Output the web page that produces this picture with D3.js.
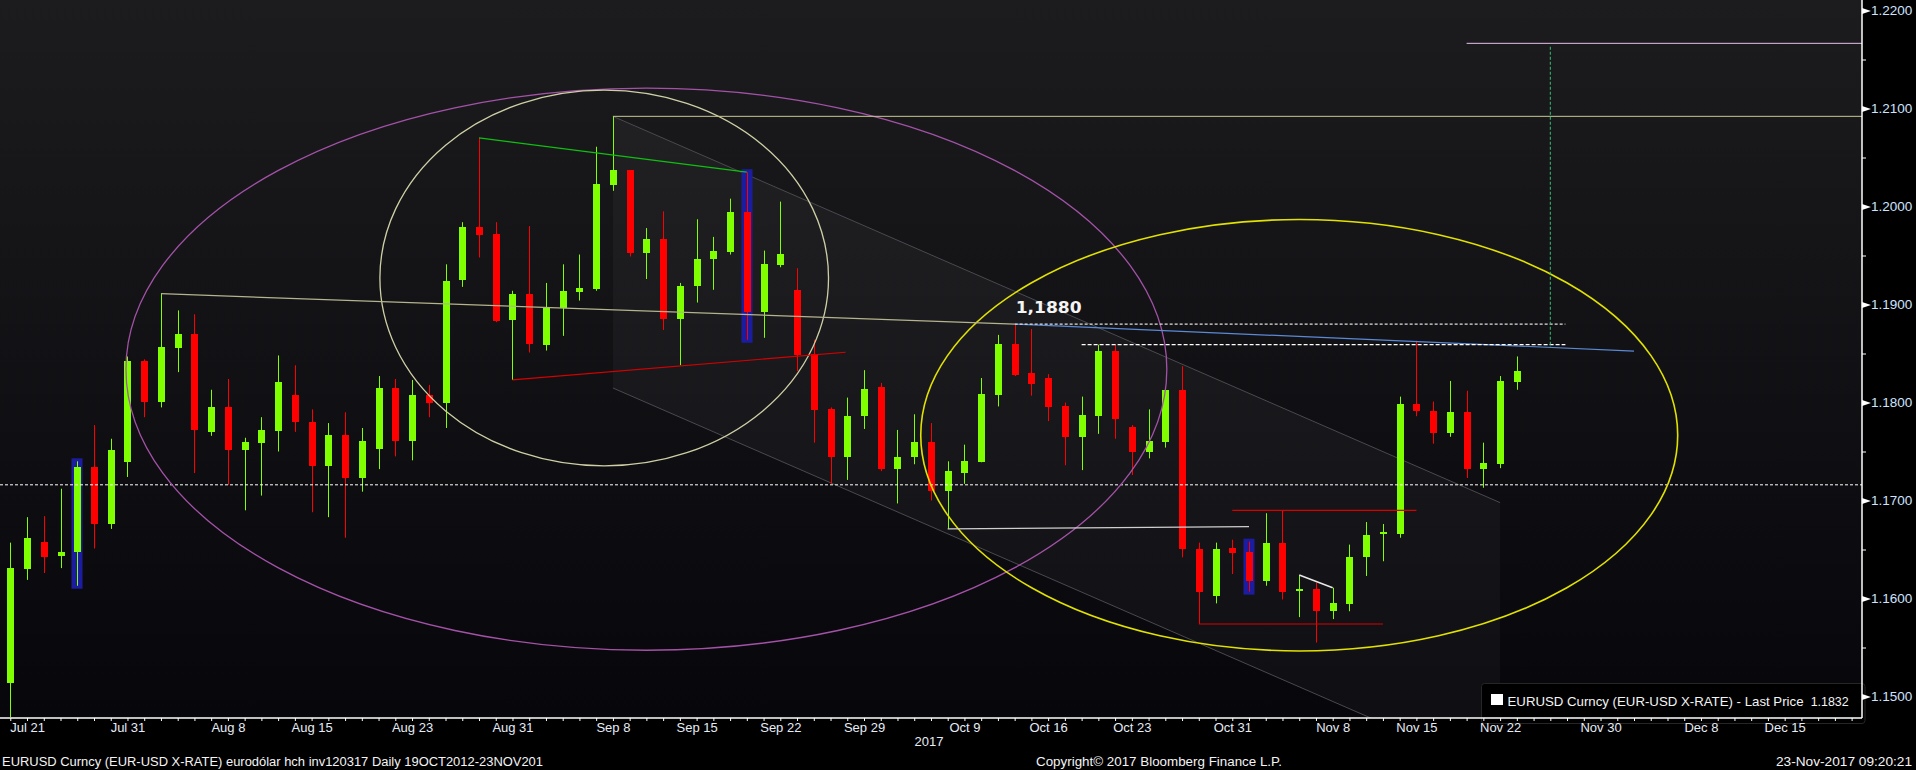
<!DOCTYPE html>
<html><head><meta charset="utf-8">
<script src="https://cdn.jsdelivr.net/npm/d3@7"></script>
<style>html,body{margin:0;padding:0;background:#000;overflow:hidden}</style>
</head><body>
<svg id="chart" width="1916" height="770"></svg>
<script>
// ---------- DATA ----------
const dates = ["Jul 20","Jul 21","Jul 24","Jul 25","Jul 26","Jul 27","Jul 28","Jul 31",
"Aug 1","Aug 2","Aug 3","Aug 4","Aug 7","Aug 8","Aug 9","Aug 10","Aug 11","Aug 14","Aug 15","Aug 16","Aug 17","Aug 18","Aug 21","Aug 22","Aug 23","Aug 24","Aug 25","Aug 28","Aug 29","Aug 30","Aug 31",
"Sep 1","Sep 4","Sep 5","Sep 6","Sep 7","Sep 8","Sep 11","Sep 12","Sep 13","Sep 14","Sep 15","Sep 18","Sep 19","Sep 20","Sep 21","Sep 22","Sep 25","Sep 26","Sep 27","Sep 28","Sep 29",
"Oct 2","Oct 3","Oct 4","Oct 5","Oct 6","Oct 9","Oct 10","Oct 11","Oct 12","Oct 13","Oct 16","Oct 17","Oct 18","Oct 19","Oct 20","Oct 23","Oct 24","Oct 25","Oct 26","Oct 27","Oct 30","Oct 31",
"Nov 1","Nov 2","Nov 3","Nov 6","Nov 7","Nov 8","Nov 9","Nov 10","Nov 13","Nov 14","Nov 15","Nov 16","Nov 17","Nov 20","Nov 21","Nov 22","Nov 23",
"Nov 24","Nov 27","Nov 28","Nov 29","Nov 30","Dec 1","Dec 4","Dec 5","Dec 6","Dec 7","Dec 8","Dec 11","Dec 12","Dec 13","Dec 14","Dec 15","Dec 18","Dec 19","Dec 20","Dec 21"];

const open = [1.1514,1.1630,1.1658,1.1643,1.1647,1.1734,1.1676,1.1739,1.1842,1.1801,
1.1856,1.1870,1.1770,1.1795,1.1752,1.1759,1.1771,1.1808,1.1780,1.1735,
1.1767,1.1723,1.1753,1.1815,1.1761,1.1808,1.1799,1.1925,1.1979,1.1972,
1.1884,1.1911,1.1859,1.1896,1.1913,1.1916,1.2022,1.2037,1.1953,1.1967,
1.1885,1.1919,1.1946,1.1954,1.1994,1.1892,1.1940,1.1915,1.1849,1.1793,
1.1744,1.1786,1.1816,1.1732,1.1744,1.1760,1.1710,1.1728,1.1739,1.1808,
1.1860,1.1830,1.1825,1.1796,1.1765,1.1786,1.1853,1.1775,1.1749,1.1760,
1.1813,1.1651,1.1603,1.1652,1.1647,1.1618,1.1657,1.1609,1.1610,1.1587,
1.1594,1.1642,1.1666,1.1666,1.1798,1.1791,1.1769,1.1790,1.1732,1.1737,1.1821];

const high = [1.1657,1.1683,1.1684,1.1712,1.1740,1.1777,1.1763,1.1847,1.1844,1.1911,
1.1894,1.1890,1.1813,1.1824,1.1764,1.1785,1.1848,1.1838,1.1793,1.1779,
1.1790,1.1774,1.1827,1.1824,1.1823,1.1818,1.1941,1.1984,1.2070,1.1984,
1.1914,1.1980,1.1922,1.1941,1.1951,1.2061,1.2092,1.2037,1.1978,1.1995,
1.1922,1.1987,1.1969,1.2008,1.2035,1.1955,1.2005,1.1937,1.1864,1.1795,
1.1805,1.1833,1.1820,1.1772,1.1788,1.1779,1.1740,1.1757,1.1825,1.1869,
1.1880,1.1875,1.1829,1.1800,1.1806,1.1859,1.1859,1.1777,1.1793,1.1813,
1.1837,1.1657,1.1657,1.1660,1.1658,1.1687,1.1690,1.1624,1.1616,1.1611,
1.1655,1.1678,1.1676,1.1806,1.1863,1.1801,1.1822,1.1812,1.1759,1.1827,1.1847];

const low = [1.1479,1.1619,1.1626,1.1631,1.1613,1.1651,1.1671,1.1724,1.1785,1.1795,
1.1831,1.1728,1.1766,1.1716,1.1690,1.1705,1.1750,1.1770,1.1688,1.1683,
1.1662,1.1709,1.1732,1.1745,1.1741,1.1785,1.1774,1.1918,1.1948,1.1882,
1.1823,1.1851,1.1853,1.1868,1.1904,1.1914,1.2016,1.1949,1.1926,1.1874,
1.1838,1.1902,1.1915,1.1951,1.1864,1.1866,1.1938,1.1832,1.1759,1.1717,
1.1721,1.1773,1.1730,1.1697,1.1737,1.1700,1.1671,1.1717,1.1739,1.1796,
1.1827,1.1807,1.1781,1.1736,1.1731,1.1768,1.1763,1.1726,1.1743,1.1754,
1.1642,1.1574,1.1595,1.1625,1.1607,1.1613,1.1599,1.1581,1.1555,1.1579,
1.1587,1.1623,1.1638,1.1662,1.1786,1.1758,1.1765,1.1723,1.1713,1.1733,1.1813];

const close = [1.1631,1.1662,1.1642,1.1647,1.1734,1.1676,1.1752,1.1842,1.1801,1.1857,
1.1870,1.1772,1.1795,1.1752,1.1760,1.1772,1.1821,1.1780,1.1735,1.1767,
1.1723,1.1761,1.1815,1.1761,1.1808,1.1799,1.1924,1.1979,1.1971,1.1883,
1.1911,1.1860,1.1897,1.1914,1.1917,1.2023,1.2037,1.1953,1.1967,1.1885,
1.1919,1.1946,1.1955,1.1994,1.1892,1.1941,1.1952,1.1848,1.1792,1.1744,
1.1786,1.1814,1.1732,1.1744,1.1760,1.1710,1.1730,1.1740,1.1809,1.1860,
1.1828,1.1819,1.1795,1.1765,1.1787,1.1853,1.1783,1.1749,1.1761,1.1813,
1.1651,1.1607,1.1651,1.1646,1.1618,1.1657,1.1607,1.1610,1.1587,1.1595,
1.1642,1.1665,1.1668,1.1798,1.1791,1.1769,1.1790,1.1732,1.1738,1.1822,1.1832];

const xTickLabels = ["Jul 21","Jul 31","Aug 8","Aug 15","Aug 23","Aug 31","Sep 8","Sep 15","Sep 22","Sep 29",
"Oct 9","Oct 16","Oct 23","Oct 31","Nov 8","Nov 15","Nov 22","Nov 30","Dec 8","Dec 15"];
const yTicks = [1.15,1.16,1.17,1.18,1.19,1.20,1.21,1.22];
const yMinorTicks = [1.155,1.165,1.175,1.185,1.195,1.205,1.215];
const highlighted = [4,44,74];          // candles with blue highlight
const refLevel = 1.1716;                // dotted reference level
const lastPrice = 1.1832;

// annotation geometry in data units: [dayIndex, price]
const ellipsePurple = {cx:38.0, cy:1.1834, rx:31.09, ry:0.02868};
const ellipseBeige  = {cx:35.48, cy:1.1927, rx:13.40, ry:0.01917};
const ellipseYellow = {cx:77.0, cy:1.17666, rx:22.61, ry:0.02201};
const channelStart = 36, channelEnd = 89;
const channelUpper = [1.2092, 1.16978];
const channelLower = [1.18148, 1.14206];
const neckKhaki = [[9,1.1911],[60,1.1880]];
const neckBlue  = [[60,1.1880],[97,1.18525]];
const topKhaki  = [[36,1.2092],[110.62,1.2092]];
const topViolet = [[87,1.21665],[110.62,1.21665]];
const targetVertical = [[92,1.2163],[92,1.18562]];
const dotted1880 = [[60,1.1880],[92.9,1.1880]];
const dotted1859 = [[64,1.1859],[92.9,1.1859]];
const greenLine = [[28,1.2070],[44,1.2035]];
const redLine   = [[30,1.1823],[49.9,1.18513]];
const grayLine  = [[56,1.1671],[74,1.16734]];
const redTop    = [[73,1.1690],[84,1.1690]];
const redBottom = [[71,1.1574],[82,1.1574]];
const whiteSmall= [[77,1.1624],[79,1.1611]];
const labelLevel = {text:"1,1880", i:60, price:1.1880};

// ---------- CHART ----------
const svg = d3.select("#chart");
const PR = 1862, PB = 718;
const x = d3.scaleLinear().domain([-0.615, 110.62]).range([0, PR]);
const y = d3.scaleLinear().domain([1.15, 1.22]).range([696.5, 10.5]);

const defs = svg.append("defs");
const grad = defs.append("linearGradient").attr("id","bg").attr("x1",0).attr("y1",0).attr("x2",0).attr("y2",1);
grad.append("stop").attr("offset","0%").attr("stop-color","#1c1c1f");
grad.append("stop").attr("offset","100%").attr("stop-color","#07070b");
defs.append("clipPath").attr("id","clip").append("rect").attr("width",PR).attr("height",PB);

svg.append("rect").attr("width",1916).attr("height",770).attr("fill","#000");
svg.append("rect").attr("width",PR).attr("height",PB).attr("fill","url(#bg)");

const g = svg.append("g").attr("clip-path","url(#clip)");

// channel fill
const chPts = [[channelStart,channelUpper[0]],[channelEnd,channelUpper[1]],[channelEnd,channelLower[1]],[channelStart,channelLower[0]]];
g.append("path").attr("d","M"+chPts.map(p=>[x(p[0]),y(p[1])].join(",")).join("L")+"Z")
  .attr("fill","rgba(255,255,255,0.035)");
const line = d3.line().x(d=>x(d[0])).y(d=>y(d[1]));
g.append("path").attr("d",line([[channelStart,channelUpper[0]],[channelEnd,channelUpper[1]]])).attr("stroke","#4a4a4e").attr("fill","none");
g.append("path").attr("d",line([[channelStart,channelLower[0]],[channelEnd,channelLower[1]]])).attr("stroke","#4a4a4e").attr("fill","none");

// highlight rects
const bw = 7;
g.selectAll("rect.hl").data(highlighted).join("rect")
  .attr("x", i => Math.round(x(i)) - 5.5).attr("width", 11)
  .attr("y", i => y(high[i]) - 3).attr("height", i => y(low[i]) - y(high[i]) + 6)
  .attr("fill","#1c1c9e");

// candles
const idx = d3.range(open.length);
const col = i => close[i] >= open[i] ? "#80ff00" : "#ff0000";
g.selectAll("line.wick").data(idx).join("line")
  .attr("x1", i => Math.round(x(i)) + 0.5).attr("x2", i => Math.round(x(i)) + 0.5)
  .attr("y1", i => y(high[i])).attr("y2", i => y(low[i]))
  .attr("stroke", col).attr("stroke-width",1);
g.selectAll("rect.body").data(idx).join("rect")
  .attr("x", i => Math.round(x(i)) - 3).attr("width", bw)
  .attr("y", i => Math.min(y(open[i]), y(close[i])))
  .attr("height", i => Math.max(2, Math.abs(y(open[i]) - y(close[i]))))
  .attr("fill", col).attr("shape-rendering","crispEdges");

// reference dotted level
g.append("line").attr("x1",0).attr("x2",PR).attr("y1",y(refLevel)).attr("y2",y(refLevel))
  .attr("stroke","#ffffff").attr("stroke-dasharray","3,2").attr("stroke-width",1);

// ellipses
function ell(e, color, w){
  g.append("ellipse").attr("cx",x(e.cx)).attr("cy",y(e.cy))
   .attr("rx",x(e.cx+e.rx)-x(e.cx)).attr("ry",y(e.cy-e.ry)-y(e.cy))
   .attr("fill","none").attr("stroke",color).attr("stroke-width",w);
}
ell(ellipsePurple,"#a452a8",1.3);
ell(ellipseBeige,"#cfcfa6",1.3);
ell(ellipseYellow,"#e2e200",1.6);

// lines
function ln(pts,color,w,dash){
  const p = g.append("path").attr("d",line(pts)).attr("stroke",color).attr("stroke-width",w).attr("fill","none");
  if(dash) p.attr("stroke-dasharray",dash);
}
ln(topKhaki,"#c8c892",1);
ln(topViolet,"#e6c0ee",1);
ln(neckKhaki,"#b4b48e",1.2);
ln(neckBlue,"#5a8ad6",1.2);
ln(dotted1880,"#e0e0e0",1.2,"3,2");
ln(dotted1859,"#ffffff",1.2,"4,2");
ln(targetVertical,"#32c272",1,"3,2");
ln(greenLine,"#10c010",1.2);
ln(redLine,"#d80000",1.2);
ln(grayLine,"#cfcfcf",1.3);
ln(redTop,"#d80000",1.2);
ln(redBottom,"#d80000",1.2);
ln(whiteSmall,"#e8e8e8",1.5);

// label 1,1880
svg.append("text").attr("x",x(labelLevel.i)+1).attr("y",y(labelLevel.price)-11)
  .attr("font-family","'DejaVu Sans', Verdana, sans-serif").attr("font-weight","bold")
  .attr("font-size",16).attr("fill","#f4f4f4").attr("textLength",66).attr("lengthAdjust","spacingAndGlyphs")
  .text(labelLevel.text);

// legend box
svg.append("rect").attr("x",1481.5).attr("y",683.5).attr("width",PR-1481.5+3).attr("height",40)
  .attr("rx",3).attr("fill","#000").attr("stroke","#262626");
svg.append("rect").attr("x",1491).attr("y",694).attr("width",12).attr("height",11).attr("fill","#fff");
svg.append("text").attr("x",1507.5).attr("y",705.5).attr("font-family","'Liberation Sans', Arial, sans-serif")
  .attr("font-size",13).attr("fill","#f4f4f4").attr("textLength",296).attr("lengthAdjust","spacingAndGlyphs")
  .text("EURUSD Curncy (EUR-USD X-RATE) - Last Price");
svg.append("text").attr("x",1810.7).attr("y",705.5).attr("font-family","'Liberation Sans', Arial, sans-serif")
  .attr("font-size",13).attr("fill","#f4f4f4").attr("textLength",38).attr("lengthAdjust","spacingAndGlyphs")
  .text(d3.format(".4f")(lastPrice));

// axes
const fontAx = "'Liberation Sans', Arial, sans-serif";
const labelSet = new Set(xTickLabels);
const xAxis = d3.axisBottom(x).tickValues(d3.range(0, 111)).tickSize(3).tickSizeOuter(0)
  .tickFormat(i => labelSet.has(dates[i]) ? dates[i] : "");
const gx = svg.append("g").attr("transform",`translate(0,${PB})`).call(xAxis);
gx.select(".domain").attr("stroke","#ffffff").attr("stroke-width",1.5).attr("d",`M0,0H${PR}`);
gx.selectAll(".tick line").attr("stroke","#ffffff");
gx.selectAll(".tick text").attr("font-family",fontAx).attr("font-size",13).attr("fill","#e6ecf6").attr("dy","0.72em").attr("y",5);

const yAxis = d3.axisRight(y).tickValues(yTicks).tickFormat(d3.format(".4f")).tickSize(0).tickPadding(9);
const gy = svg.append("g").attr("transform",`translate(${PR},0)`).call(yAxis);
gy.select(".domain").attr("stroke","#ffffff").attr("stroke-width",1.5).attr("d",`M0,0V${PB}`);
gy.selectAll(".tick text").attr("font-family",fontAx).attr("font-size",13.5).attr("fill","#cfe3ff");
gy.selectAll(".tick").append("path").attr("d","M0,-3L9,0L0,3Z").attr("fill","#ffffff");
const yMinor = d3.axisRight(y).tickValues(yMinorTicks).tickSize(4).tickFormat("");
const gym = svg.append("g").attr("transform",`translate(${PR},0)`).call(yMinor);
gym.select(".domain").remove();
gym.selectAll(".tick line").attr("stroke","#ffffff");

// year label and footer texts
svg.append("text").attr("x",929).attr("y",746).attr("text-anchor","middle").attr("font-family",fontAx)
  .attr("font-size",13).attr("fill","#e6ecf6").text("2017");
svg.append("text").attr("x",2).attr("y",766).attr("font-family",fontAx).attr("font-size",12.5)
  .attr("fill","#f4f4f4").attr("textLength",541).attr("lengthAdjust","spacingAndGlyphs")
  .text("EURUSD Curncy (EUR-USD X-RATE) eurodólar hch inv120317  Daily 19OCT2012-23NOV201");
svg.append("text").attr("x",1036).attr("y",766).attr("font-family",fontAx).attr("font-size",12.5)
  .attr("fill","#f4f4f4").attr("textLength",246).attr("lengthAdjust","spacingAndGlyphs")
  .text("Copyright© 2017 Bloomberg Finance L.P.");
svg.append("text").attr("x",1776).attr("y",766).attr("font-family",fontAx).attr("font-size",12.5)
  .attr("fill","#f4f4f4").attr("textLength",136).attr("lengthAdjust","spacingAndGlyphs")
  .text("23-Nov-2017 09:20:21");
</script>
</body></html>
